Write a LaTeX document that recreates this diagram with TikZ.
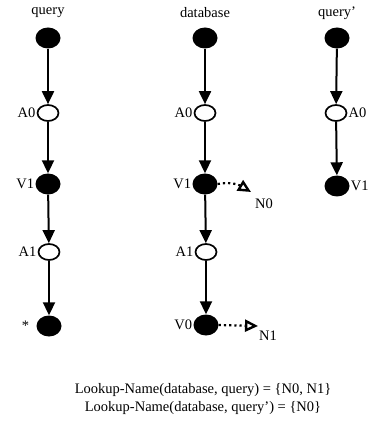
\documentclass[tikz,border=0pt]{standalone}
\usepackage{fontspec}
\setmainfont{Liberation Serif}
\usetikzlibrary{shapes.geometric,arrows.meta}
\begin{document}
\begin{tikzpicture}[x=1pt,y=-1pt,
  solid node/.style={ellipse,fill=black,minimum width=25pt,minimum height=21pt,inner sep=0pt},
  hollow node/.style={ellipse,draw=black,line width=1.7pt,fill=white,minimum width=21pt,minimum height=16pt,inner sep=0pt},
  link/.style={line width=2pt,-{Triangle[length=13pt,width=12pt]}},
  name link/.style={line width=2.2pt,dash pattern=on 2.2pt off 3pt,-{Triangle[open,length=13pt,width=12pt,line width=2.4pt]}},
  lbl/.style={font=\fontsize{14.5}{16}\selectfont,inner sep=1pt},
  every label/.style={lbl},
  label distance=0pt]
\useasboundingbox (0,0) rectangle (380,427);

% column headings
\node[lbl] (hq) at (48,13) {query};
\node[lbl] (hd) at (205,13) {database};
\node[lbl] (hp) at (337,13) {query'};

% query
\node[solid node] (q0) at (48,38) {};
\node[hollow node,label=left:A0] (qa0) at (48,113) {};
\node[solid node,label=left:V1] (qv1) at (48,184) {};
\node[hollow node,label=left:A1] (qa1) at (49,252) {};
\node[solid node,label={[label distance=6pt]left:*}] (qs) at (49,326) {};
\draw[link] (q0) -- (qa0);
\draw[link] (qa0) -- (qv1);
\draw[link] (qv1) -- (qa1);
\draw[link] (qa1) -- (qs);

% database
\node[solid node] (d0) at (205,38) {};
\node[hollow node,label=left:A0] (da0) at (205,113) {};
\node[solid node,label=left:V1] (dv1) at (205,184) {};
\node[hollow node,label=left:A1] (da1) at (206,252) {};
\node[solid node,label=left:V0] (dv0) at (206,325) {};
\draw[link] (d0) -- (da0);
\draw[link] (da0) -- (dv1);
\draw[link] (dv1) -- (da1);
\draw[link] (da1) -- (dv0);

% names found in the database
\coordinate (n0tip) at (251,192);
\coordinate (n1tip) at (258,326);
\node[lbl] (n0) at (264,204) {N0};
\node[lbl] (n1) at (268,336) {N1};
\draw[name link] (dv1.east) .. controls +(14,-3) and +(-10,-6) .. (n0tip);
\draw[name link] (dv0.east) -- (n1tip);

% query'
\node[solid node] (p0) at (337,38) {};
\node[hollow node,label=right:A0] (pa0) at (336,113) {};
\node[solid node,label=right:V1] (pv1) at (337,186) {};
\draw[link] (p0) -- (pa0);
\draw[link] (pa0) -- (pv1);

% results
\node[lbl] (r1) at (203,390) {Lookup-Name(database, query) = \{N0, N1\}};
\node[lbl] (r2) at (203,408) {Lookup-Name(database, query') = \{N0\}};
\end{tikzpicture}
\end{document}
